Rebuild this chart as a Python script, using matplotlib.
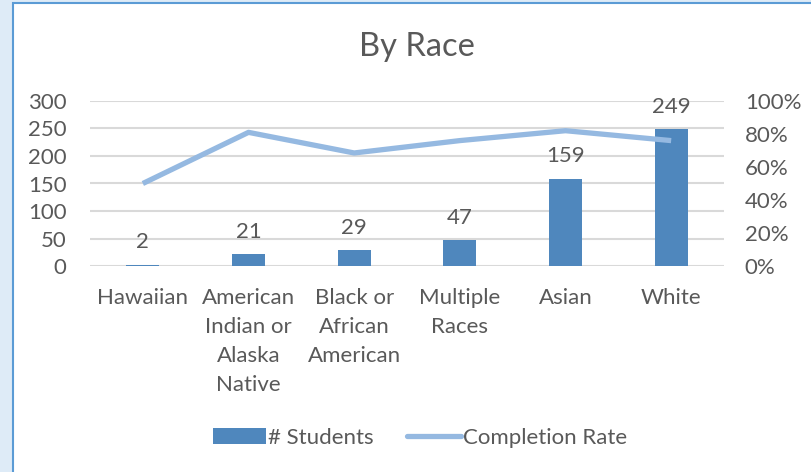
import matplotlib.pyplot as plt
from matplotlib.patches import Rectangle, Patch
from matplotlib.lines import Line2D
import numpy as np

plt.rcParams['font.family'] = ['Lato', 'DejaVu Sans']

# data
categories = ["Hawaiian", "American\nIndian or\nAlaska\nNative", "Black or\nAfrican\nAmerican",
              "Multiple\nRaces", "Asian", "White"]
students = [2, 21, 29, 47, 159, 249]
completion = [0.50, 0.81, 0.685, 0.76, 0.82, 0.76]

bar_color = '#4F87BD'
line_color = '#95B9E1'
txt = '#595959'
grid = '#D9D9D9'
fs = 16

fig = plt.figure(figsize=(8.11, 4.72), dpi=100, facecolor='#DEEBF7')
# white chart panel with blue border
fig.patches.append(Rectangle((13 / 811, -0.1), 1.2, 1.1 - 3 / 472, transform=fig.transFigure,
                             facecolor='white', edgecolor='#5B9BD5', linewidth=1.5, zorder=-10))

ax = fig.add_axes([90 / 811, 1 - 266 / 472, (724 - 90) / 811, (266 - 101) / 472])
ax.set_facecolor('none')
x = np.arange(len(categories))
bars = ax.bar(x, students, width=0.31, color=bar_color, zorder=2)
ax.set_ylim(0, 300)
ax.set_xlim(-0.5, len(categories) - 0.5)
ax.set_yticks(range(0, 301, 50))
ax.yaxis.grid(True, color=grid, linewidth=1.5, zorder=0)
ax.set_axisbelow(True)
for s in ax.spines.values():
    s.set_visible(False)
ax.tick_params(axis='both', length=0, labelsize=fs, labelcolor=txt)
ax.tick_params(axis='y', pad=17)
ax.set_xticks(x)
ax.set_xticklabels(categories, linespacing=1.55)
ax.tick_params(axis='x', pad=16)

for xi, v in zip(x, students):
    ax.annotate(str(v), (xi, v), xytext=(0, 9), textcoords='offset points',
                ha='center', va='bottom', fontsize=fs, color=txt)

ax2 = ax.twinx()
ax2.plot(x, completion, color=line_color, linewidth=3.8, solid_capstyle='butt', zorder=3)
ax2.set_ylim(0, 1)
ax2.set_yticks(np.arange(0, 1.01, 0.2))
ax2.set_yticklabels([f"{int(round(t * 100))}%" for t in np.arange(0, 1.01, 0.2)])
for s in ax2.spines.values():
    s.set_visible(False)
ax2.tick_params(axis='y', length=0, labelsize=fs, labelcolor=txt, pad=15)

fig.text(417 / 811, 1 - 47 / 472, "By Race", ha='center', va='center', fontsize=23.5, color=txt)

handles = [Patch(facecolor=bar_color, label='# Students'),
           Line2D([0], [0], color=line_color, linewidth=3.8, solid_capstyle='round',
                  label='Completion Rate')]
fig.legend(handles=handles, loc='center', bbox_to_anchor=(420 / 811, 1 - 438 / 472), ncol=2,
           frameon=False, fontsize=fs, labelcolor=txt, handlelength=2.4, handletextpad=0.1,
           columnspacing=1.5)

fig.savefig('out.png', dpi=100, facecolor=fig.get_facecolor())
